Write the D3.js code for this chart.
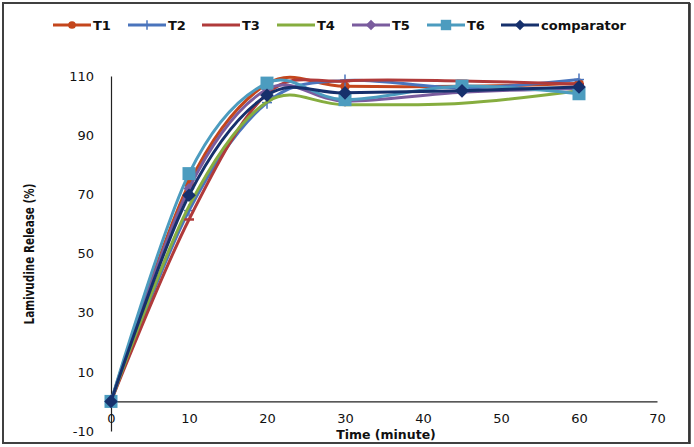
<!DOCTYPE html>
<html><head><meta charset="utf-8">
<script src="https://cdn.jsdelivr.net/npm/d3@7"></script>
<style>
html,body{margin:0;padding:0;background:#fff;}
svg{display:block;}
</style></head>
<body>
<script>
// ---- data ----
const times = [0, 10, 20, 30, 45, 60];
const T1 = [0, 73.5, 107.3, 106.5, 106.5, 107.5];
const T2 = [0, 64.5, 101, 108.5, 106, 108.8];
const T3 = [0, 61.5, 104, 108.3, 108.3, 107.2];
const T4 = [0, 66, 101.2, 100.3, 100.8, 105];
const T5 = [0, 72, 105.5, 101.5, 104.5, 105.8];
const T6 = [0, 77, 107.6, 102, 106.6, 104];
const comparator = [0, 69.7, 103.5, 104.3, 105, 106.3];
const seriesNames = ["T1", "T2", "T3", "T4", "T5", "T6", "comparator"];
const xTicks = [0, 10, 20, 30, 40, 50, 60, 70];
const yTicks = [-10, 10, 30, 50, 70, 90, 110];

const seriesValues = [T1, T2, T3, T4, T5, T6, comparator];
const colors = ["#C4461C", "#4A74BC", "#B03A3A", "#86AD3F", "#7A5C9E", "#4C9CBF", "#16306C"];
const markers = ["circle", "plus", "dash", "none", "diamond", "square", "diamond"];

const W = 694, H = 447;
const svg = d3.select("body").append("svg").attr("width", W).attr("height", H);

// border
svg.append("rect").attr("x", 3).attr("y", 3).attr("width", 686).attr("height", 440)
  .attr("fill", "#fff").attr("stroke", "#404040").attr("stroke-width", 2);
svg.append("line").attr("x1", 690).attr("x2", 690).attr("y1", 3).attr("y2", 444)
  .attr("stroke", "#303030").attr("stroke-width", 1.5);

const x = d3.scaleLinear().domain([0, 70]).range([111, 657]);
const y = d3.scaleLinear().domain([-10, 110]).range([431, 76]);

const font = "'DejaVu Sans', Verdana, sans-serif";
const fmt = d => String(d);

// axes
const yAxis = svg.append("g").attr("transform", `translate(${x(0)},0)`)
  .call(d3.axisLeft(y).tickValues(yTicks).tickSize(0).tickPadding(17).tickFormat(fmt));
yAxis.select(".domain").attr("stroke", "#222").attr("stroke-width", 1.2);
yAxis.selectAll("text").attr("font-family", font).attr("font-size", 13).attr("fill", "#111");

const xAxis = svg.append("g").attr("transform", `translate(0,${y(0)})`)
  .call(d3.axisBottom(x).tickValues(xTicks).tickSize(0).tickPadding(12).tickFormat(fmt));
xAxis.select(".domain").attr("stroke", "#222").attr("stroke-width", 1.2);
xAxis.selectAll("text").attr("font-family", font).attr("font-size", 13).attr("fill", "#111");

// axis titles
svg.append("text").attr("x", 386).attr("y", 439).attr("text-anchor", "middle")
  .attr("font-family", font).attr("font-weight", "bold").attr("font-size", 12.5).attr("fill", "#111")
  .text("Time (minute)");
svg.append("text").attr("transform", "translate(34,254) rotate(-90)").attr("text-anchor", "middle")
  .attr("font-family", "'DejaVu Sans Condensed', 'Liberation Sans Narrow', sans-serif")
  .attr("font-stretch", "condensed").attr("font-weight", "bold")
  .attr("font-size", 14).attr("fill", "#111")
  .attr("textLength", 141).attr("lengthAdjust", "spacingAndGlyphs")
  .text("Lamivudine Release (%)");

// marker drawing
function drawMarker(g, type, cx, cy, color, scale) {
  const s = scale || 1;
  if (type === "circle") {
    g.append("circle").attr("cx", cx).attr("cy", cy).attr("r", 4.8 * s).attr("fill", color);
  } else if (type === "plus") {
    g.append("line").attr("x1", cx - 5 * s).attr("x2", cx + 5 * s).attr("y1", cy).attr("y2", cy)
      .attr("stroke", color).attr("stroke-width", 1.5);
    g.append("line").attr("x1", cx).attr("x2", cx).attr("y1", cy - 6 * s).attr("y2", cy + 6 * s)
      .attr("stroke", color).attr("stroke-width", 1.5);
  } else if (type === "dash") {
    g.append("line").attr("x1", cx - 5 * s).attr("x2", cx + 5 * s).attr("y1", cy).attr("y2", cy)
      .attr("stroke", color).attr("stroke-width", 2.5);
  } else if (type === "diamond") {
    const r = 6.5 * s;
    g.append("path").attr("d", `M${cx},${cy - r}L${cx + r},${cy}L${cx},${cy + r}L${cx - r},${cy}Z`).attr("fill", color);
  } else if (type === "square") {
    const r = 6.5 * s;
    g.append("rect").attr("x", cx - r).attr("y", cy - r).attr("width", 2 * r).attr("height", 2 * r).attr("fill", color);
  }
}

const line = d3.line().x(d => x(d[0])).y(d => y(d[1])).curve(d3.curveCatmullRom.alpha(0));

seriesValues.forEach((vals, i) => {
  const pts = times.map((t, j) => [t, vals[j]]);
  const g = svg.append("g");
  g.append("path").attr("d", line(pts)).attr("fill", "none")
    .attr("stroke", colors[i]).attr("stroke-width", 3).attr("stroke-linejoin", "round");
  const msc = i === 6 ? 1.05 : (i === 4 ? 0.85 : 1);
  pts.forEach(p => drawMarker(g, markers[i], x(p[0]), y(p[1]), colors[i], msc));
});

// legend
const legendX = [53, 128, 202, 277, 352, 427, 501];
const legendY = 25;
seriesNames.forEach((name, i) => {
  const g = svg.append("g");
  const lx = legendX[i];
  g.append("line").attr("x1", lx).attr("x2", lx + 38).attr("y1", legendY).attr("y2", legendY)
    .attr("stroke", colors[i]).attr("stroke-width", 3);
  const mk = markers[i] === "dash" ? "none" : markers[i];
  drawMarker(g, mk, lx + 19, legendY, colors[i], 0.8);
  g.append("text").attr("x", lx + 40).attr("y", legendY + 5).attr("font-family", font)
    .attr("font-weight", "bold").attr("font-size", 13).attr("fill", "#111").text(name);
});
</script>
</body></html>
